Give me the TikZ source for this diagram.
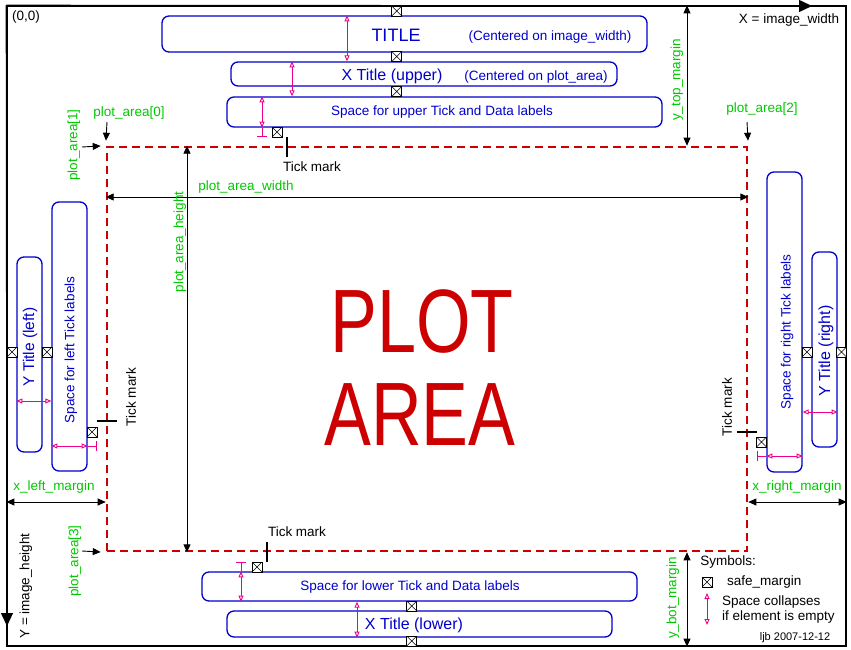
\documentclass[tikz,border=0pt]{standalone}
\usepackage{fontspec}
\setmainfont{Liberation Sans}
\usetikzlibrary{arrows.meta, positioning}

\definecolor{boxblue}{RGB}{0,0,204}
\definecolor{dimgreen}{RGB}{0,200,0}
\definecolor{plotred}{RGB}{204,0,0}

\begin{document}
\begin{tikzpicture}[x=1pt, y=-1pt,
    txt/.style={font=\fontsize{13.5}{15}\selectfont, inner sep=0pt},
    dimlbl/.style={txt, text=dimgreen},
    region/.style={draw=boxblue, line width=1.3pt, rounded corners=7pt, inner sep=0pt},
    rtxt/.style={txt, text=boxblue},
    safe/.style={draw, fill=white, line width=0.6pt, minimum size=10pt, inner sep=0pt,
        path picture={\draw[line width=0.5pt] (path picture bounding box.north west) -- (path picture bounding box.south east)
            (path picture bounding box.north east) -- (path picture bounding box.south west);}},
    arr/.style={line width=0.9pt, -{Triangle[length=8pt,width=7pt]}},
    dimarr/.style={line width=0.9pt, {Triangle[length=8pt,width=7pt]}-{Triangle[length=8pt,width=7pt]}},
    collapse/.style={magenta, line width=0.9pt, {Triangle[open,length=6pt,width=5pt]}-{Triangle[open,length=6pt,width=5pt]}},
    collapsebar/.style={magenta, line width=0.9pt, -{Bar[width=10pt]}},
    tickmark/.style={line width=2pt}
]
\useasboundingbox (0,0) rectangle (851,650);

% image frame and plot area
\node[draw, line width=1.3pt, minimum width=839pt, minimum height=640pt, inner sep=0pt] (frame) at (426.5,326) {};
\node[draw=plotred, line width=2.6pt, dash pattern=on 8pt off 5pt, minimum width=640pt, minimum height=404pt, inner sep=0pt] (pa) at (427,349) {};
\node[txt, text=plotred, font=\fontsize{90}{90}\selectfont] (plot) at (422,322) {\scalebox{0.78}[1]{PLOT}};
\node[txt, text=plotred, font=\fontsize{90}{90}\selectfont] (area) at (420,415) {\scalebox{0.78}[1]{AREA}};

% axes
\coordinate (xend) at (812,6);
\coordinate (yend) at (7,626);
\draw[line width=1.3pt, -{Triangle[length=13pt,width=12pt]}] (frame.north west) -- (xend);
\draw[line width=1.3pt, -{Triangle[length=13pt,width=12pt]}] (frame.north west) -- (yend);
\node[txt] (origin) at (26,17) {(0,0)};
\node[txt] (xlbl) at (789,20) {X = image\_width};
\node[txt, rotate=90] (ylbl) at (26,586) {Y = image\_height};

% regions
\node[region, minimum width=485pt, minimum height=36pt] (ttlbox) at (404.5,34) {};
\node[region, minimum width=386pt, minimum height=24pt] (xtubox) at (424,74) {};
\node[region, minimum width=435pt, minimum height=30pt] (spubox) at (444.5,112) {};
\node[region, minimum width=25pt, minimum height=195pt] (ytlbox) at (29.5,354.5) {};
\node[region, minimum width=35pt, minimum height=269pt] (splbox) at (69.5,336.5) {};
\node[region, minimum width=35pt, minimum height=300pt] (sprbox) at (784.5,322) {};
\node[region, minimum width=25pt, minimum height=195pt] (ytrbox) at (824.5,349.5) {};
\node[region, minimum width=435pt, minimum height=29pt] (splwbox) at (419.5,586.5) {};
\node[region, minimum width=385pt, minimum height=26pt] (xtlbox) at (419.5,624) {};

\node[rtxt, font=\fontsize{18}{18}\selectfont] (ttl) at (396,35) {TITLE};
\node[rtxt] (ttlnote) at (550,37) {(Centered on image\_width)};
\node[rtxt, font=\fontsize{16}{16}\selectfont] (xtu) at (392,76) {X Title (upper)};
\node[rtxt] (xtunote) at (536,77) {(Centered on plot\_area)};
\node[rtxt] (spu) at (442,112) {Space for upper Tick and Data labels};
\node[rtxt, font=\fontsize{15.5}{16}\selectfont, rotate=90] (ytl) at (30,347) {Y Title (left)};
\node[rtxt, rotate=90] (spl) at (71,350) {Space for left Tick labels};
\node[rtxt, rotate=90] (spr) at (787,332) {Space for right Tick labels};
\node[rtxt, font=\fontsize{16}{16}\selectfont, rotate=90] (ytr) at (826,351) {Y Title (right)};
\node[rtxt] (splw) at (410,587) {Space for lower Tick and Data labels};
\node[rtxt, font=\fontsize{16}{16}\selectfont] (xtl) at (414,625) {X Title (lower)};

% space collapses
\draw[collapse] (347,0 |- ttlbox.north) -- (347,0 |- xtubox.north);
\draw[collapse] (292,0 |- xtubox.north) -- (292,0 |- spubox.north);
\draw[collapse] (262,0 |- spubox.north) -- (262,0 |- spubox.south);
\draw[collapsebar] (262,0 |- spubox.south) -- (262,137);
\draw[collapse] (ytlbox.west |- 0,401) -- (splbox.west |- 0,401);
\draw[collapse] (splbox.west |- 0,446) -- (splbox.east |- 0,446);
\draw[collapsebar] (splbox.east |- 0,446) -- (97,446);
\draw[collapse] (sprbox.east |- 0,412) -- (ytrbox.east |- 0,412);
\draw[collapse] (sprbox.east |- 0,456) -- (sprbox.west |- 0,456);
\draw[collapsebar] (sprbox.west |- 0,456) -- (757,456);
\draw[collapse] (241,0 |- splwbox.north) -- (241,0 |- splwbox.south);
\draw[collapsebar] (241,0 |- splwbox.north) -- (241,562);
\draw[collapse] (357,0 |- splwbox.south) -- (357,0 |- xtlbox.south);

% safe margins
\node[safe] (sft1) at (396.7,11) {};
\node[safe] (sft2) at (396.7,56.5) {};
\node[safe] (sft3) at (396.7,91.5) {};
\node[safe] (sft4) at (277,132) {};
\node[safe] (sfl1) at (12,352) {};
\node[safe] (sfl2) at (47,352) {};
\node[safe] (sfl3) at (92,432) {};
\node[safe] (sfr1) at (807,352) {};
\node[safe] (sfr2) at (841.5,352) {};
\node[safe] (sfr3) at (761.5,442) {};
\node[safe] (sfb1) at (257,567) {};
\node[safe] (sfb2) at (411.7,606) {};
\node[safe] (sfb3) at (411.7,641) {};

% tick marks
\draw[tickmark] (287,137) -- (287,157);
\draw[tickmark] (97,421) -- (117,421);
\draw[tickmark] (737,432) -- (757,432);
\draw[tickmark] (267,542) -- (267,562);
\node[txt] (tmt) at (312,167) {Tick mark};
\node[txt, rotate=90] (tml) at (131,397) {Tick mark};
\node[txt, rotate=90] (tmr) at (727,407) {Tick mark};
\node[txt] (tmb) at (297,532) {Tick mark};

% plot area corners
\coordinate (pa0tail) at (107,122);
\coordinate (pa1tail) at (82,147);
\coordinate (pa2tail) at (747,122);
\coordinate (pa3tail) at (82,551);
\draw[arr, shorten >=5pt] (pa0tail) -- (pa.north west);
\draw[arr, shorten >=5pt] (pa1tail) -- (pa.north west);
\draw[arr, shorten >=5pt] (pa2tail) -- (pa.north east);
\draw[arr, shorten >=5pt] (pa3tail) -- (pa.south west);
\node[dimlbl] (pa0) at (129,113) {plot\_area[0]};
\node[dimlbl, rotate=90] (pa1) at (74,145) {plot\_area[1]};
\node[dimlbl] (pa2) at (762,109) {plot\_area[2]};
\node[dimlbl, rotate=90] (pa3) at (75,561) {plot\_area[3]};

% dimensions
\draw[dimarr] (pa.west |- 0,197) -- (pa.east |- 0,197);
\draw[dimarr] (187,0 |- pa.north) -- (187,0 |- pa.south);
\draw[dimarr] (687,0 |- frame.north) -- (687,0 |- pa.north);
\draw[dimarr] (687,0 |- pa.south) -- (687,0 |- frame.south);
\draw[dimarr] (frame.west |- 0,502) -- (pa.west |- 0,502);
\draw[dimarr] (pa.east |- 0,502) -- (frame.east |- 0,502);
\node[dimlbl] (paw) at (246,187) {plot\_area\_width};
\node[dimlbl, rotate=90] (pah) at (180,242) {plot\_area\_height};
\node[dimlbl, rotate=90] (ytm) at (677,80) {y\_top\_margin};
\node[dimlbl, rotate=90] (ybm) at (673,598) {y\_bot\_margin};
\node[dimlbl] (xlm) at (54,487) {x\_left\_margin};
\node[dimlbl] (xrm) at (797,487) {x\_right\_margin};

% symbols
\node[txt] (symb) at (728,562) {Symbols:};
\node[safe] (lgsafe) at (707,582) {};
\node[txt, anchor=west] (lgsafetxt) at (727,582) {safe\_margin};
\coordinate (lgtop) at (707,593);
\coordinate (lgbot) at (707,625);
\draw[collapse] (lgtop) -- (lgbot);
\node[txt, anchor=west, align=left] (lgcol) at (722,610) {Space collapses\\if element is empty};
\node[txt, font=\fontsize{11}{11}\selectfont] (sig) at (795,638) {ljb 2007-12-12};

\end{tikzpicture}
\end{document}
